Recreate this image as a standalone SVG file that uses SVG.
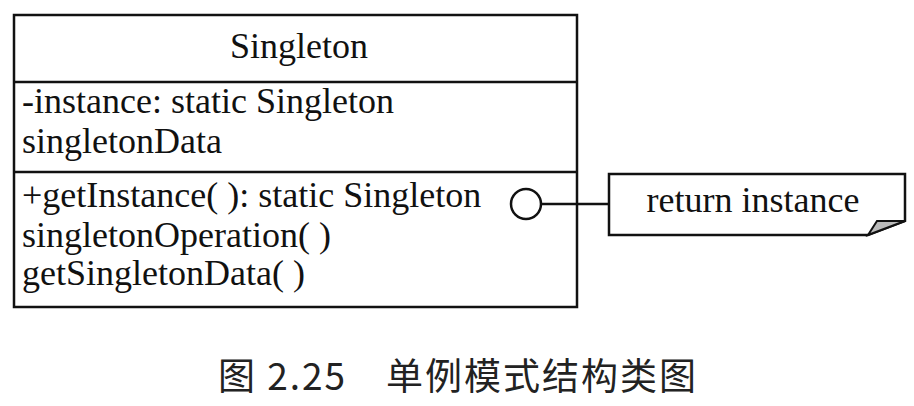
<svg xmlns="http://www.w3.org/2000/svg" width="914" height="406" viewBox="0 0 914 406">
<style>
.l{fill:none;stroke:#111;stroke-width:2.5}
.t{font-family:"Liberation Serif",serif;font-size:36px;fill:#111}
</style>
<rect width="914" height="406" fill="#fff"/>
<g id="singleton">
<rect class="l" x="14" y="15" width="563" height="292" fill="#fff"/>
<line class="l" x1="14" y1="82" x2="577" y2="82"/>
<line class="l" x1="14" y1="172" x2="577" y2="172"/>
<text class="t" x="299" y="58" text-anchor="middle">Singleton</text>
<text class="t" x="22" y="113">-instance: static Singleton</text>
<text class="t" x="22" y="153">singletonData</text>
<text class="t" x="22" y="207">+getInstance( ): static Singleton</text>
<text class="t" x="22" y="247">singletonOperation( )</text>
<text class="t" x="22" y="285">getSingletonData( )</text>
</g>
<g id="connectors">
<circle class="l" cx="526" cy="204" r="15" fill="#fff"/>
<line class="l" x1="541" y1="204" x2="609" y2="204"/>
</g>
<g id="note">
<polygon class="l" points="609,174 905,174 905,221 868,235 609,235" fill="#fff"/>
<polygon points="868,235 877,221 905,221" fill="#bbb" stroke="#111" stroke-width="2"/>
<text class="t" x="753" y="212" text-anchor="middle">return instance</text>
</g>
<text x="458" y="390" text-anchor="middle" style="font-family:'Noto Sans CJK SC',sans-serif;font-size:37px;fill:#222;letter-spacing:2px">图 2.25　单例模式结构类图</text>
</svg>
